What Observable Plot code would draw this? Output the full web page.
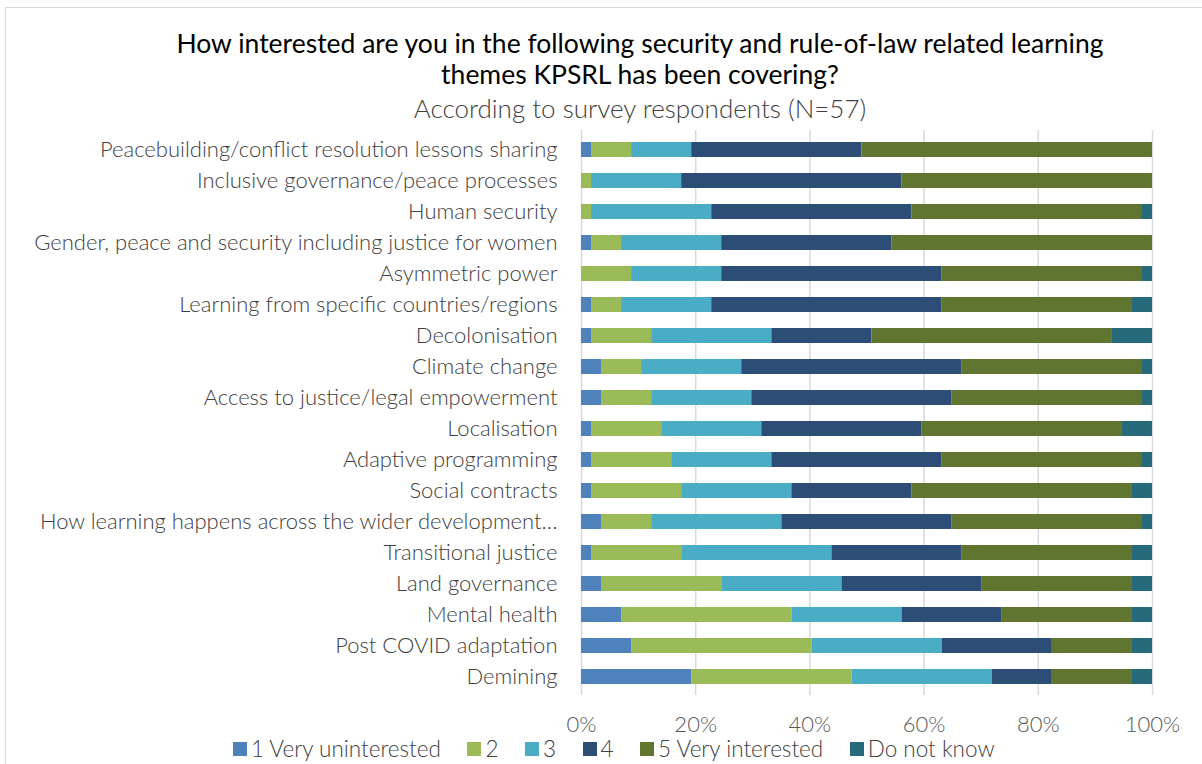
<!DOCTYPE html>
<html><head><meta charset="utf-8">
<script src="https://cdn.jsdelivr.net/npm/d3@7"></script>
<script src="https://cdn.jsdelivr.net/npm/@observablehq/plot@0.6"></script>
<style>
html,body{margin:0;padding:0;background:#fff}
body{width:1202px;height:764px;overflow:hidden;position:relative;font-family:Lato,"Open Sans",sans-serif}
#frame{position:absolute;left:5px;top:7px;width:1400px;height:900px;border:1px solid #d9d9d9;box-sizing:border-box}
#title{position:absolute;left:40px;width:1200px;top:28px;text-align:center;font-size:26.5px;line-height:31px;color:#000}
#subtitle{position:absolute;left:40px;width:1200px;top:94px;text-align:center;font-size:26px;line-height:28px;color:#404040;font-weight:300}
#chart{position:absolute;left:0;top:125px}
#legend{position:absolute;left:233px;top:735px;display:flex;align-items:center;font-size:22.5px;color:#404040;white-space:nowrap;font-weight:300}
#legend .item{display:flex;align-items:center;margin-right:26.5px}
#legend .sw{width:14px;height:14px;margin-right:4px}
</style></head>
<body>
<div id="frame"></div>
<div id="title">How interested are you in the following security and rule-of-law related learning<br>themes KPSRL has been covering?</div>
<div id="subtitle">According to survey respondents (N=57)</div>
<div id="chart"></div>
<div id="legend"></div>
<script>
const N = 57;
const themes = [
  "Peacebuilding/conflict resolution lessons sharing",
  "Inclusive governance/peace processes",
  "Human security",
  "Gender, peace and security including justice for women",
  "Asymmetric power",
  "Learning from specific countries/regions",
  "Decolonisation",
  "Climate change",
  "Access to justice/legal empowerment",
  "Localisation",
  "Adaptive programming",
  "Social contracts",
  "How learning happens across the wider development…",
  "Transitional justice",
  "Land governance",
  "Mental health",
  "Post COVID adaptation",
  "Demining"
];
const levels = ["1 Very uninterested", "2", "3", "4", "5 Very interested", "Do not know"];
const colors = ["#4F81BD", "#9BBB59", "#4BACC6", "#2C4D75", "#5F7530", "#276A7C"];
const veryUninterested = [1,0,0,1,0,1,1,2,2,1,1,1,2,1,2,4,5,11];
const level2 =           [4,1,1,3,5,3,6,4,5,7,8,9,5,9,12,17,18,16];
const level3 =           [6,9,12,10,9,9,12,10,10,10,10,11,13,15,12,11,13,14];
const level4 =           [17,22,20,17,22,23,10,22,20,16,17,12,17,13,14,10,11,6];
const veryInterested =   [29,25,23,26,20,19,24,18,19,20,20,22,19,17,15,13,8,8];
const doNotKnow =        [0,0,1,0,1,2,4,1,1,3,1,2,1,2,2,2,2,2];
const xTicks = [0, 0.2, 0.4, 0.6, 0.8, 1];

const series = [veryUninterested, level2, level3, level4, veryInterested, doNotKnow];
const data = [];
levels.forEach((lv, j) => themes.forEach((t, i) => data.push({theme: t, level: lv, count: series[j][i]})));

const chart = Plot.plot({
  width: 1202, height: 615,
  marginLeft: 581, marginRight: 50, marginTop: 5, marginBottom: 45,
  style: {fontFamily: "Lato, 'Open Sans', sans-serif", fontSize: "22px", fontWeight: 300, background: "transparent"},
  x: {domain: [0, 1]},
  y: {domain: themes, paddingInner: 0.53, paddingOuter: 0.265},
  color: {domain: levels, range: colors},
  marks: [
    Plot.gridX(xTicks, {stroke: "#d9d9d9", strokeOpacity: 1, strokeWidth: 1.5}),
    Plot.barX(data, {x: d => d.count / N, y: "theme", fill: "level", order: levels}),
    Plot.axisX(xTicks, {tickFormat: d3.format(".0%"), tickSize: 0, tickPadding: 21, fill: "#595959", fontSize: 22, label: null}),
    Plot.axisY({tickSize: 0, tickPadding: 24, fill: "#404040", fontSize: 22, label: null})
  ]
});
document.getElementById("chart").appendChild(chart);

const legend = document.getElementById("legend");
levels.forEach((lv, j) => {
  const item = document.createElement("div");
  item.className = "item";
  const sw = document.createElement("span");
  sw.className = "sw";
  sw.style.background = colors[j];
  const tx = document.createElement("span");
  tx.textContent = lv;
  item.appendChild(sw); item.appendChild(tx);
  legend.appendChild(item);
});
</script>
</body></html>
